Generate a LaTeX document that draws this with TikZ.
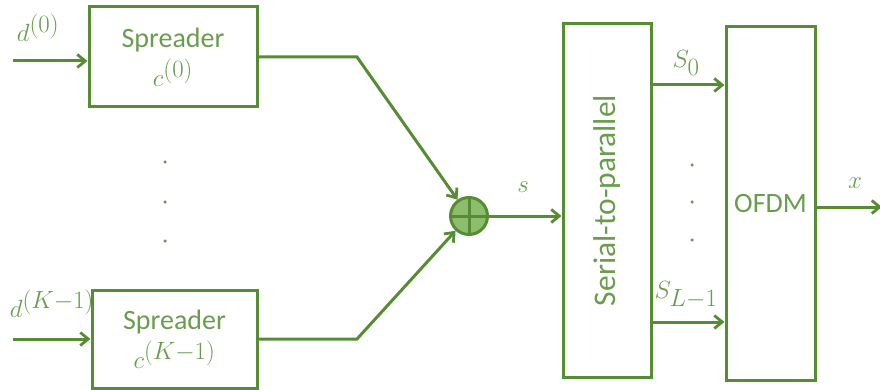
\documentclass[tikz,border=0pt]{standalone}
\usepackage{fontspec}
\setsansfont{Carlito}
\renewcommand\defaultscriptratio{.8}
\usetikzlibrary{arrows.meta}
\definecolor{lineg}{RGB}{86,140,52}
\definecolor{textg}{RGB}{106,156,78}
\definecolor{fillg}{RGB}{140,190,110}
\begin{document}
\begin{tikzpicture}[x=1pt,y=-1pt,
  blk/.style={draw=lineg,line width=3pt,minimum width=#1,inner sep=0pt,font=\sffamily\fontsize{28}{32}\selectfont,text=textg},
  wire/.style={draw=lineg,line width=3pt},
  arr/.style={wire,-{Straight Barb[length=8pt,width=13pt,line width=2.8pt]}},
  lbl/.style={text=textg,font=\fontsize{29}{32}\selectfont},
  dotc/.style={circle,fill=textg!70!gray,inner sep=0pt,minimum size=3.5pt}]
\useasboundingbox (0,0) rectangle (880,390);
% spreader blocks
\node[blk=168pt,minimum height=100pt,align=center] (sp0) at (173,57) {Spreader\\[6pt]\fontsize{29}{32}\selectfont$c^{(0)}$};
\node[blk=165pt,minimum height=98pt,align=center] (sp1) at (174.5,339) {Spreader\\[6pt]\fontsize{29}{32}\selectfont$c^{(K-1)}$};
% inputs
\coordinate (in0) at (13,61);
\coordinate (in1) at (13,339);
\draw[arr] (in0) -- (in0 -| sp0.west);
\draw[arr] (in1) -- (in1 -| sp1.west);
\node[lbl] (d0) at (38,28) {$d^{(0)}$};
\node[lbl] (d1) at (52,304) {$d^{(K-1)}$};
% vertical dots between spreaders
\node[dotc] (ld1) at (165,162) {};
\node[dotc] (ld2) at (165,202) {};
\node[dotc] (ld3) at (165,241) {};
% adder
\node[circle,draw=lineg,line width=3pt,fill=fillg,minimum size=37pt,inner sep=0pt] (sum) at (469,216) {};
\draw[wire] (sum.north) -- (sum.south) (sum.west) -- (sum.east);
\coordinate (b0) at (357,57);
\coordinate (b1) at (357,339);
\draw[arr] (sp0.east |- b0) -- (b0) -- (sum);
\draw[arr] (sp1.east |- b1) -- (b1) -- (sum);
% serial-to-parallel
\node[blk=88pt,minimum height=353pt] (sp) at (607,200.5) {};
\node[text=textg,font=\sffamily\fontsize{31.5}{34}\selectfont,rotate=90] (spt) at (sp.center) {Serial-to-parallel};
\draw[arr] (sum) -- (sum -| sp.west);
\node[lbl] (s) at (523,187) {$s$};
% OFDM
\node[blk=89pt,minimum height=353pt] (ofdm) at (770.5,203.5) {OFDM};
\coordinate (o0) at (651,85);
\coordinate (o1) at (651,322);
\draw[arr] (o0) -- (o0 -| ofdm.west);
\draw[arr] (o1) -- (o1 -| ofdm.west);
\node[lbl] (s0) at (686,63) {$S_0$};
\node[lbl] (sl) at (686,295) {$S_{L-1}$};
\node[dotc] (rd1) at (692,165) {};
\node[dotc] (rd2) at (692,202) {};
\node[dotc] (rd3) at (692,240) {};
% output
\coordinate (xo) at (882,207);
\draw[arr] (ofdm.east |- xo) -- (xo);
\node[lbl] (x) at (855,183) {$x$};
\end{tikzpicture}
\end{document}
